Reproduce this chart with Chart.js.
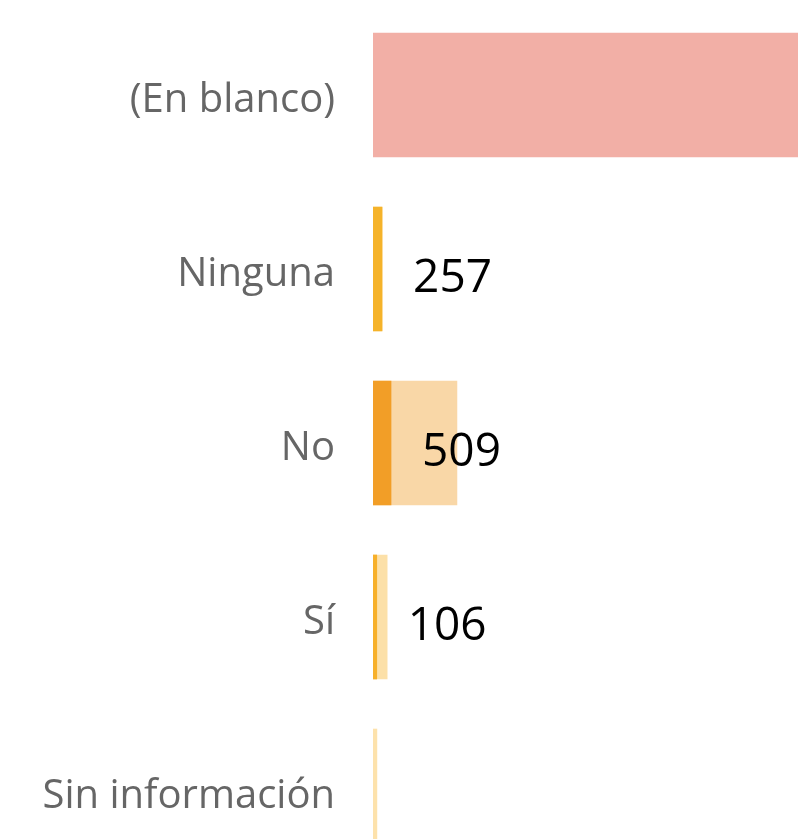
<!DOCTYPE html>
<html>
<head>
<meta charset="utf-8">
<script src="https://cdn.jsdelivr.net/npm/chart.js@4"></script>
<style>
  html, body { margin: 0; padding: 0; background: #fff; overflow: hidden; }
</style>
</head>
<body>
<canvas id="chart" width="798" height="878"></canvas>
<script>
// data
const categories = ["(En blanco)", "Ninguna", "No", "Sí", "Sin información"];
const countValues = [14000, 257, 509, 106, null];   // labelled measure (front bar)
const totalValues = [null, 250, 2370, 400, 110];    // pale bar behind
const countColors = ["#F2AFA6", "#F5B32A", "#F29E27", "#F7B02A", "#FDE2AC"];
const totalColors = ["#FCE0A8", "#FCE0A8", "#F9D7A7", "#FCE0A8", "#FDE2AC"];
const axisMax = 12000;

// value labels next to the front bar
const valueLabels = {
    id: "valueLabels",
    afterDatasetsDraw(chart) {
        const ctx = chart.ctx;
        const meta = chart.getDatasetMeta(1);
        ctx.save();
        ctx.font = "46px 'Open Sans'";
        ctx.fillStyle = "#000";
        ctx.textAlign = "left";
        ctx.textBaseline = "alphabetic";
        meta.data.forEach((bar, i) => {
            const v = countValues[i];
            if (v == null) return;
            ctx.fillText(String(v), bar.x + 31, bar.y + 23);
        });
        ctx.restore();
    }
};

new Chart(document.getElementById("chart"), {
    type: "bar",
    data: {
        labels: categories,
        datasets: [
            {
                label: "Total",
                data: totalValues,
                backgroundColor: totalColors,
                borderWidth: 0,
                barThickness: 124,
                grouped: false,
                order: 2
            },
            {
                label: "Cantidad",
                data: countValues,
                backgroundColor: countColors,
                borderWidth: 0,
                barThickness: 124,
                grouped: false,
                order: 1
            }
        ]
    },
    options: {
        indexAxis: "y",
        responsive: false,
        animation: false,
        layout: { padding: { top: 8, right: 0, bottom: 0, left: 0 } },
        plugins: {
            legend: { display: false },
            tooltip: { enabled: false }
        },
        scales: {
            x: {
                display: false,
                min: 0,
                max: axisMax
            },
            y: {
                grid: { display: false },
                border: { display: false },
                afterFit(scale) {
                    scale.width = 373;
                    scale.paddingTop = 0;
                    scale.paddingBottom = 0;
                },
                ticks: {
                    padding: 30,
                    labelOffset: 6,
                    color: "#666666",
                    font: { family: "'Open Sans'", size: 40 }
                }
            }
        }
    },
    plugins: [valueLabels]
});
</script>
</body>
</html>
